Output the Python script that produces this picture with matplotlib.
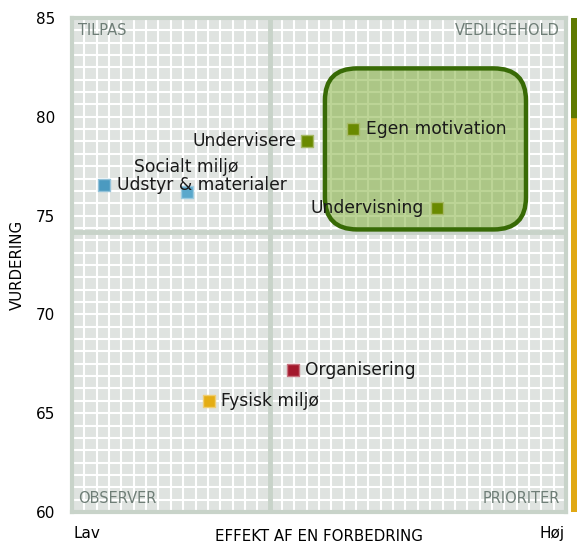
import numpy as np
import matplotlib
matplotlib.use('Agg')
import matplotlib.pyplot as plt
from matplotlib.patches import FancyBboxPatch, Rectangle

# data (x: 0 = Lav, 100 = Høj)
labels = ['Udstyr & materialer', 'Socialt miljø', 'Undervisere', 'Egen motivation',
          'Undervisning', 'Organisering', 'Fysisk miljø']
effekt = [6.5, 23.2, 47.6, 56.9, 73.8, 44.7, 27.7]
vurdering = [76.55, 76.2, 78.75, 79.4, 75.4, 67.2, 65.6]
farver = ['#4b9ac0', '#5aa8cc', '#6a8a00', '#6a8a00', '#6a8a00', '#a3182c', '#e4ad14']
# where each label goes relative to its marker (dx, dy in points, ha, va)
placering = [(9, 0, 'left', 'center'), (0, 18, 'center', 'center'),
             (-8, 0, 'right', 'center'), (9, 0, 'left', 'center'),
             (-9, 0, 'right', 'center'), (9, 0, 'left', 'center'),
             (9, 0, 'left', 'center')]

kvadranter = ['TILPAS', 'VEDLIGEHOLD', 'OBSERVER', 'PRIORITER']
fokus_x = [51.2, 91.9]     # highlighted region
fokus_y = [74.3, 82.45]

ymin, ymax = 60, 85
grid_bg = '#dfe3e0'
kant = '#c8d3c9'

fig = plt.figure(figsize=(5.77, 5.43), dpi=100)
ax = fig.add_axes([72/577, 31/543, 494/577, 494/543])
ax.set_xlim(0, 100)
ax.set_ylim(ymin, ymax)
ax.set_facecolor(grid_bg)

# fine white grid, 40 x 40 cells
for gx in np.linspace(0, 100, 41)[1:-1]:
    ax.axvline(gx, color='white', lw=1.5, zorder=1)
for gy in np.linspace(ymin, ymax, 41)[1:-1]:
    ax.axhline(gy, color='white', lw=1.5, zorder=1)

# quadrant dividers at the means
mx = np.mean(effekt)
my = np.mean(vurdering)
ax.axvline(mx, color=kant, lw=3.5, zorder=2)
ax.axhline(my, color=kant, lw=3.5, zorder=2)

for s in ax.spines.values():
    s.set_color(kant)
    s.set_linewidth(3)

# highlighted box
w = fokus_x[1] - fokus_x[0]
h = fokus_y[1] - fokus_y[0]
box = FancyBboxPatch((fokus_x[0], fokus_y[0]), w, h,
                     boxstyle='round,pad=0,rounding_size=6.5',
                     mutation_aspect=0.25,
                     facecolor='#7aab2e', alpha=0.5, edgecolor='none', zorder=3)
ax.add_patch(box)
box2 = FancyBboxPatch((fokus_x[0], fokus_y[0]), w, h,
                      boxstyle='round,pad=0,rounding_size=6.5',
                      mutation_aspect=0.25,
                      facecolor='none', edgecolor='#386a06', lw=3.2, zorder=4)
ax.add_patch(box2)

# points
for i in range(len(labels)):
    ax.scatter(effekt[i], vurdering[i], marker='s', s=70, color=farver[i],
               edgecolors=matplotlib.colors.to_hex(
                   0.6*np.array(matplotlib.colors.to_rgb(farver[i])) + 0.4),
               linewidths=1.0, zorder=6)
    dx, dy, ha, va = placering[i]
    ax.annotate(labels[i], (effekt[i], vurdering[i]), xytext=(dx, dy),
                textcoords='offset points', ha=ha, va=va, fontsize=12.3,
                color='#1a1a1a', zorder=7)

# quadrant names
qc = '#6f7e77'
ax.text(1.2, 84.75, kvadranter[0], ha='left', va='top', fontsize=10.5, color=qc)
ax.text(98.8, 84.75, kvadranter[1], ha='right', va='top', fontsize=10.5, color=qc)
ax.text(1.2, 60.3, kvadranter[2], ha='left', va='bottom', fontsize=10.5, color=qc)
ax.text(98.8, 60.3, kvadranter[3], ha='right', va='bottom', fontsize=10.5, color=qc)

ax.set_xticks([])
ax.set_yticks([60, 65, 70, 75, 80, 85])
ax.tick_params(axis='y', length=0, pad=12, labelsize=11)
ax.set_ylabel('VURDERING', fontsize=10.8, labelpad=8)
ax.set_xlabel('EFFEKT AF EN FORBEDRING', fontsize=10.8, labelpad=12)
ax.text(0.3, 59.3, 'Lav', ha='left', va='top', fontsize=11)
ax.text(99.7, 59.3, 'Høj', ha='right', va='top', fontsize=11)

# colour strip on the right
bar = fig.add_axes([571/577, 31/543, 6/577, 494/543])
bar.set_xlim(0, 1)
bar.set_ylim(ymin, ymax)
bar.axis('off')
bar.add_patch(Rectangle((0, ymin), 1, 80 - ymin, color='#e0a814'))
bar.add_patch(Rectangle((0, 80), 1, ymax - 80, color='#5f7a00'))

fig.savefig('out.png', dpi=100)
